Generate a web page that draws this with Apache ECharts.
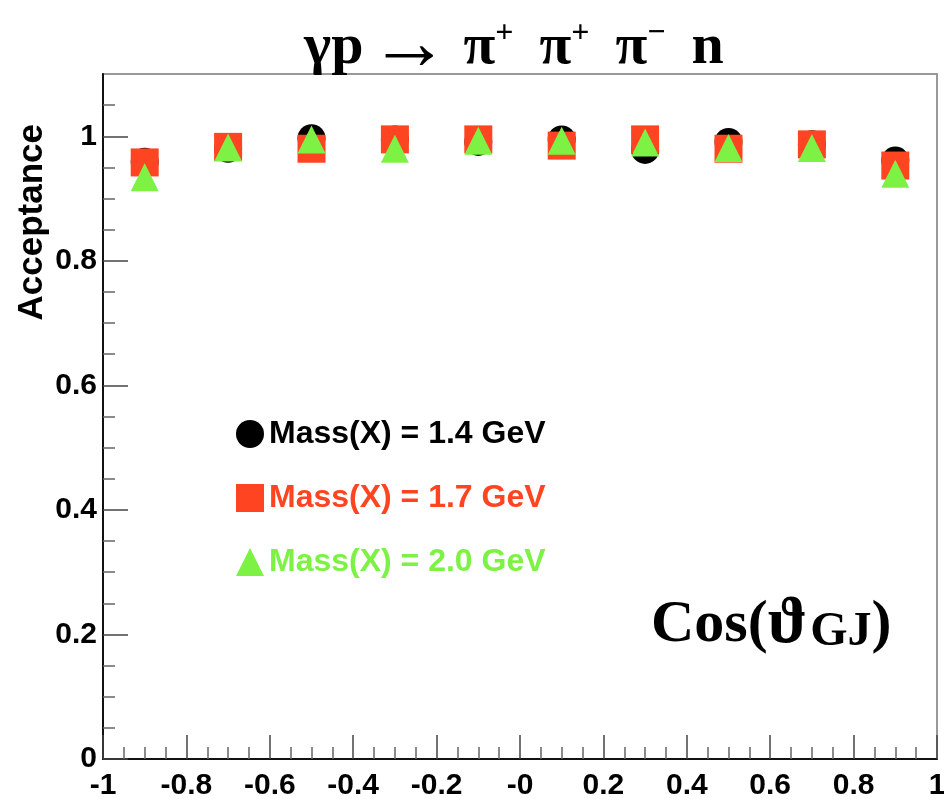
<!DOCTYPE html>
<html>
<head>
<meta charset="utf-8">
<script src="https://cdn.jsdelivr.net/npm/echarts@6/dist/echarts.min.js"></script>
<style>
  html, body { margin: 0; padding: 0; background: #fff; }
  #chart { width: 944px; height: 799px; }
</style>
</head>
<body>
<div id="chart"></div>
<script>
var cosBins = [-0.9, -0.7, -0.5, -0.3, -0.1, 0.1, 0.3, 0.5, 0.7, 0.9];
var acc14 = [0.959, 0.980, 0.997, 0.995, 0.991, 0.995, 0.978, 0.991, 0.987, 0.961];
var acc17 = [0.958, 0.983, 0.980, 0.995, 0.995, 0.985, 0.995, 0.980, 0.987, 0.953];
var acc20 = [0.934, 0.982, 0.995, 0.980, 0.993, 0.993, 0.990, 0.981, 0.981, 0.940];

var seriesNames = ["Mass(X) = 1.4 GeV", "Mass(X) = 1.7 GeV", "Mass(X) = 2.0 GeV"];
var seriesColors = ["#000000", "#ff4422", "#7ef244"];
var seriesSymbols = ["circle", "rect", "triangle"];

var xMajorTicks = [-1, -0.8, -0.6, -0.4, -0.2, 0, 0.2, 0.4, 0.6, 0.8, 1];
var xTickLabels = ["-1", "-0.8", "-0.6", "-0.4", "-0.2", "-0", "0.2", "0.4", "0.6", "0.8", "1"];
var yMajorTicks = [0, 0.2, 0.4, 0.6, 0.8, 1];
var yTickLabels = ["0", "0.2", "0.4", "0.6", "0.8", "1"];
var yMinorTicks = [0.05, 0.1, 0.15, 0.25, 0.3, 0.35, 0.45, 0.5, 0.55, 0.65, 0.7, 0.75, 0.85, 0.9, 0.95, 1.05];

var myChart = echarts.init(document.getElementById("chart"));

function pairs(xs, ys) {
  var out = [];
  for (var i = 0; i < xs.length; i++) {
    out.push([xs[i], ys[i]]);
  }
  return out;
}

function labelFor(values, labels) {
  return function (v) {
    for (var i = 0; i < values.length; i++) {
      if (Math.abs(values[i] - v) < 1e-6) return labels[i];
    }
    return "";
  };
}

var sans = "Liberation Sans, Arial, sans-serif";
var serif = "Liberation Serif, Times New Roman, serif";

var allValues = [acc14, acc17, acc20];
var series = [];
var legendData = [];
for (var k = 0; k < allValues.length; k++) {
  series.push({
    name: seriesNames[k],
    type: "scatter",
    symbol: seriesSymbols[k],
    symbolSize: 28,
    itemStyle: { color: seriesColors[k], opacity: 1 },
    data: pairs(cosBins, allValues[k]),
    z: 3 + k
  });
  legendData.push({
    name: seriesNames[k],
    icon: seriesSymbols[k],
    textStyle: { color: seriesColors[k] }
  });
}

var option = {
  animation: false,
  grid: {
    left: 103,
    right: 7,
    top: 74,
    bottom: 40,
    show: true,
    borderColor: "#999",
    borderWidth: 2,
    containLabel: false,
    outerBoundsMode: "none"
  },
  legend: {
    orient: "vertical",
    left: 236,
    top: 418,
    padding: 0,
    itemWidth: 28,
    itemHeight: 28,
    itemGap: 32,
    selectedMode: false,
    textStyle: { fontFamily: sans, fontWeight: "bold", fontSize: 32 },
    data: legendData
  },
  xAxis: [{
    type: "value",
    min: -1,
    max: 1,
    interval: 0.2,
    axisLine: { show: true, onZero: false, lineStyle: { color: "#111", width: 2 } },
    axisTick: { show: true, inside: true, length: 24, lineStyle: { color: "#444", width: 1.5 } },
    minorTick: { show: true, splitNumber: 4, length: 12, lineStyle: { color: "#666", width: 1.5 } },
    splitLine: { show: false },
    axisLabel: {
      margin: 12,
      fontFamily: sans,
      fontWeight: "bold",
      fontSize: 30,
      color: "#000",
      formatter: labelFor(xMajorTicks, xTickLabels)
    }
  }],
  yAxis: [{
    type: "value",
    min: 0,
    max: 1.1,
    axisLine: { show: true, onZero: false, lineStyle: { color: "#111", width: 2 } },
    axisTick: { show: true, inside: true, length: 25, customValues: yMajorTicks, lineStyle: { color: "#444", width: 1.5 } },
    splitLine: { show: false },
    axisLabel: {
      margin: 6,
      fontFamily: sans,
      fontWeight: "bold",
      fontSize: 30,
      color: "#000",
      customValues: yMajorTicks,
      formatter: labelFor(yMajorTicks, yTickLabels)
    }
  }, {
    type: "value",
    position: "left",
    min: 0,
    max: 1.1,
    axisLine: { show: false, onZero: false },
    axisTick: { show: true, inside: true, length: 12, customValues: yMinorTicks, lineStyle: { color: "#666", width: 1.5 } },
    axisLabel: { show: false },
    splitLine: { show: false }
  }],
  graphic: [{
    // title
    type: "text",
    left: 304,
    top: 8,
    style: {
      text: "{m|γp}{a|→}{m|π}{s|+}{m|π}{s|+}{m|π}{s|−}{m|n}",
      rich: {
        m: { fontFamily: serif, fontWeight: "bold", fontSize: 58, fill: "#000", lineHeight: 60 },
        a: { fontFamily: serif, fontWeight: "bold", fontSize: 80, fill: "#000", lineHeight: 60, padding: [0, 14, 0, 6] },
        s: { fontFamily: serif, fontWeight: "bold", fontSize: 32, fill: "#000", lineHeight: 32, verticalAlign: "top", padding: [0, 26, 0, 0] }
      }
    }
  }, {
    type: "text",
    left: 15,
    top: 124,
    rotation: Math.PI / 2,
    style: {
      text: "Acceptance",
      fontFamily: sans,
      fontWeight: "bold",
      fontSize: 35,
      fill: "#000"
    }
  }, {
    type: "text",
    left: 651,
    top: 592,
    style: {
      text: "{m|Cos(}{t|ϑ}{b|GJ}{m|)}",
      rich: {
        m: { fontFamily: serif, fontWeight: "bold", fontSize: 60, fill: "#000", lineHeight: 64 },
        t: { fontFamily: serif, fontWeight: "bold", fontSize: 66, fill: "#000", lineHeight: 64 },
        b: { fontFamily: serif, fontWeight: "bold", fontSize: 48, fill: "#000", lineHeight: 44, verticalAlign: "bottom", padding: [0, 0, 0, 3] }
      }
    }
  }],
  series: series
};

myChart.setOption(option);
</script>
</body>
</html>
